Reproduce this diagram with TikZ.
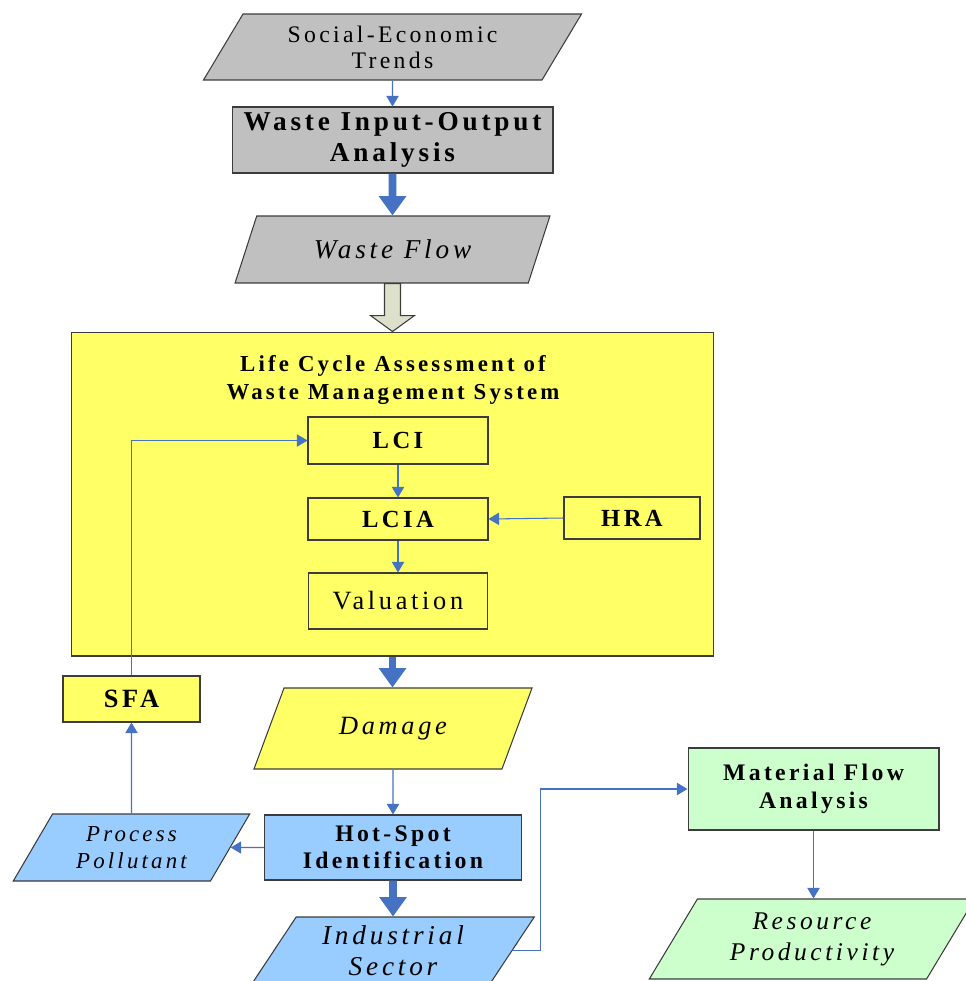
\documentclass[tikz,border=0pt]{standalone}
\usepackage{fontspec}
\setmainfont{Liberation Serif}[LetterSpace=14]
\usetikzlibrary{shapes.geometric,arrows.meta,calc}

\definecolor{greyfill}{RGB}{192,192,192}
\definecolor{lcayellow}{RGB}{255,255,102}
\definecolor{hotblue}{RGB}{153,204,255}
\definecolor{mfagreen}{RGB}{204,255,204}
\definecolor{flowblue}{RGB}{70,114,196}
\definecolor{hollowfill}{RGB}{221,224,203}
\definecolor{boxline}{RGB}{60,60,60}

\newcommand{\setfs}[2]{\fontsize{#1pt}{#2pt}\selectfont}

\tikzset{
  box/.style={draw=boxline, line width=0.6pt, align=center, inner sep=0pt},
  slant/.style={trapezium, trapezium left angle=57, trapezium right angle=123,
    trapezium stretches=true, draw=boxline, line width=0.6pt, align=center, inner sep=0pt},
  link/.style={draw=flowblue, line width=0.6pt, -{Triangle[length=6pt,width=7pt]}},
  bigflow/.style={draw=flowblue, line width=4.5pt, -{Triangle[length=11pt,width=15pt]}},
  hollow/.style={draw=boxline, fill=hollowfill, line width=0.6pt}
}

\begin{document}
\begin{tikzpicture}[x=0.02cm, y=-0.02cm]
  \useasboundingbox (0,0) rectangle (965,981);

  %Input-output part
  \node [slant, fill=greyfill, minimum width=7.58cm, minimum height=1.32cm, font=\setfs{13.5}{14.8}] (soc) at (392.5,47) {Social-Economic\\Trends};
  \node [box, fill=greyfill, minimum width=6.42cm, minimum height=1.32cm, font=\setfs{15.5}{17.6}\bfseries] (wio) at (392.5,140) {Waste Input-Output\\Analysis};
  \node [slant, fill=greyfill, minimum width=6.3cm, minimum height=1.34cm, font=\setfs{15.5}{17.6}\itshape] (wflow) at (392.5,249.5) {Waste Flow};

  \draw [link] (soc.south) -- (wio.north);
  \draw [bigflow] (wio.south) -- (wflow.north);

  %LCA block
  \node [box, fill=lcayellow, minimum width=12.86cm, minimum height=6.48cm] (lca) at (392.5,494) {};
  \node [align=center, font=\setfs{13}{15.4}\bfseries] (lcatitle) at (393,380) {Life Cycle Assessment of\\Waste Management System};
  \node [box, minimum width=3.6cm, minimum height=0.94cm, font=\setfs{14}{16}\bfseries] (lci) at (398,440.5) {LCI};
  \node [box, minimum width=3.6cm, minimum height=0.84cm, font=\setfs{14}{16}\bfseries] (lcia) at (398,519) {LCIA};
  \node [box, minimum width=2.72cm, minimum height=0.84cm, font=\setfs{14}{16}\bfseries] (hra) at (632,518) {HRA};
  \node [box, minimum width=3.58cm, minimum height=1.12cm, font=\setfs{15}{17}] (val) at (398,601) {Valuation};

  \draw [hollow] ($(wflow.south)+(-8,0)$) -- ($(wflow.south)+(8,0)$) -- ($(wflow.south)+(8,32)$)
    -- ($(wflow.south)+(22,32)$) -- (lca.north) -- ($(wflow.south)+(-22,32)$) -- ($(wflow.south)+(-8,32)$) -- cycle;

  \draw [link] (lci.south) -- (lcia.north);
  \draw [link] (lcia.south) -- (val.north);
  \draw [link] (hra.west) -- (lcia.east);

  %Damage and hot spots
  \node [box, fill=lcayellow, minimum width=2.74cm, minimum height=0.92cm, font=\setfs{15}{17}\bfseries] (sfa) at (131.5,699) {SFA};
  \node [slant, fill=lcayellow, minimum width=5.6cm, minimum height=1.62cm, font=\setfs{15}{17}\itshape] (dmg) at (393,728.5) {Damage};
  \node [slant, fill=hotblue, minimum width=4.74cm, minimum height=1.34cm, font=\setfs{13}{15.4}\itshape] (pp) at (131.5,847.5) {Process\\Pollutant};
  \node [box, fill=hotblue, minimum width=5.14cm, minimum height=1.3cm, font=\setfs{13.5}{15.4}\bfseries] (hs) at (393,847.5) {Hot-Spot\\Identification};
  \node [slant, fill=hotblue, minimum width=5.66cm, minimum height=1.34cm, font=\setfs{15.5}{17.6}\itshape] (is) at (393,950.5) {Industrial\\Sector};

  \draw [bigflow] (lca.south) -- (lca.south |- dmg.north);
  \draw [link] (dmg.south) -- (hs.north);
  \draw [link] (hs.west) -- (pp.east);
  \draw [link] (pp.north) -- (sfa.south);
  \draw [link] (sfa.north) |- (lci.west);
  \draw [bigflow] (hs.south) -- (is.north);

  %Material flow
  \node [box, fill=mfagreen, minimum width=5.02cm, minimum height=1.64cm, font=\setfs{13.5}{16}\bfseries] (mfa) at (813.5,789) {Material Flow\\Analysis};
  \node [slant, fill=mfagreen, minimum width=6.52cm, minimum height=1.6cm, font=\setfs{14.5}{17.6}\itshape] (rp) at (812,939) {Resource\\Productivity};

  \draw [link] (is.east) -- ++(28,0) |- (mfa.west);
  \draw [link] (mfa.south) -- (mfa.south |- rp.north);

\end{tikzpicture}
\end{document}
